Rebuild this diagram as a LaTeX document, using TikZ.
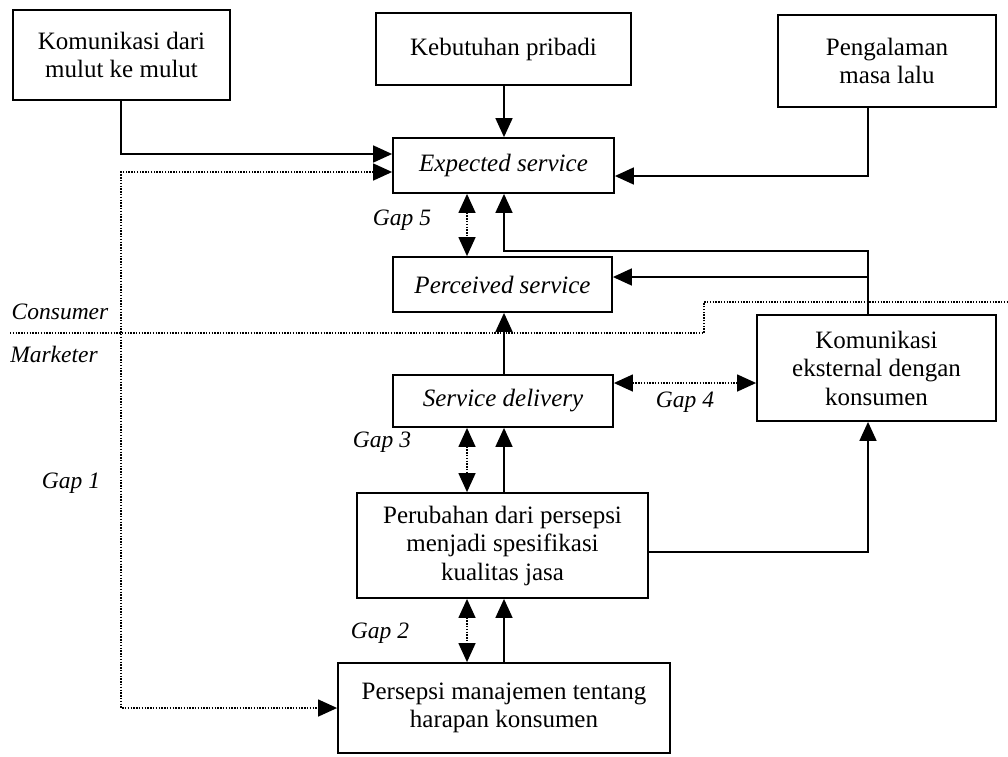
\documentclass[tikz,border=0pt]{standalone}
\usepackage{fontspec}
\setmainfont{Liberation Serif}
\usetikzlibrary{arrows.meta,calc}
\begin{document}
\begin{tikzpicture}[x=1pt,y=-1pt,
  box/.style={draw,line width=1.8pt,align=center,inner sep=0pt,
    font=\fontsize{25}{28.5}\selectfont},
  conn/.style={line width=1.6pt,-{Triangle[length=19pt,width=17pt]}},
  dotline/.style={line width=1.4pt,dash pattern=on 1.4pt off 1.4pt},
  dotconn/.style={dotline,{Triangle[length=19pt,width=17pt]}-{Triangle[length=19pt,width=17pt]}},
  lbl/.style={font=\fontsize{23.5}{28}\selectfont\itshape,inner sep=0pt}]
\useasboundingbox (0,0) rectangle (1008,756);
\fill[white] (0,0) rectangle (1008,756);
% boxes
\node[box,minimum width=217pt,minimum height=90pt] (A) at (121.5,55) {Komunikasi dari\\mulut ke mulut};
\node[box,minimum width=255pt,minimum height=72pt] (B) at (503.5,49) {Kebutuhan pribadi};
\node[box,minimum width=218pt,minimum height=92pt] (C) at (887,61) {Pengalaman\\masa lalu};
\node[box,minimum width=221pt,minimum height=55pt] (Exp) at (503.5,165.5) {\itshape Expected service};
\node[box,minimum width=219pt,minimum height=55pt] (Perc) at (502.5,284.5) {\itshape Perceived service};
\node[box,minimum width=220pt,minimum height=52pt] (SD) at (503,401) {\itshape Service delivery};
\node[box,minimum width=239pt,minimum height=106pt] (KE) at (876.5,368) {Komunikasi\\eksternal dengan\\konsumen};
\node[box,minimum width=291pt,minimum height=105pt] (Per) at (502.5,545.5) {Perubahan dari persepsi\\menjadi spesifikasi\\kualitas jasa};
\node[box,minimum width=332pt,minimum height=90pt] (PM) at (504,708) {Persepsi manajemen tentang\\harapan konsumen};
% helper coordinates
\coordinate (xd) at (467,0);
\coordinate (xs) at (504,0);
\coordinate (xk) at (868,0);
\coordinate (xl) at (121,0);
\coordinate (k1) at (504,251);
\coordinate (k2) at (868,277);
\coordinate (g1) at (121,708);
\coordinate (yg4) at (0,383);
% solid connectors
\draw[conn] (B.south -| xs) -- (Exp.north -| xs);
\draw[conn] (A.south -| xl) |- ([yshift=11.5pt]Exp.west);
\draw[conn] (C.south -| xk) |- ([yshift=-10.5pt]Exp.east);
\draw[conn] (KE.north -| xk) |- (k1) -- (Exp.south -| xs);
\draw[conn] (k2) -- ([yshift=7.5pt]Perc.east);
\draw[conn] (SD.north -| xs) -- (Perc.south -| xs);
\draw[conn] (Per.north -| xs) -- (SD.south -| xs);
\draw[conn] (PM.north -| xs) -- (Per.south -| xs);
\draw[conn] ([yshift=-6.5pt]Per.east) -| (KE.south -| xk);
% dotted gap connectors
\draw[dotconn] (Exp.south -| xd) -- (Perc.north -| xd);
\draw[dotconn] (SD.south -| xd) -- (Per.north -| xd);
\draw[dotconn] (Per.south -| xd) -- (PM.north -| xd);
\draw[dotconn] (SD.east |- yg4) -- (KE.west |- yg4);
\draw[dotconn] ([yshift=-6.5pt]Exp.west) -| (g1) -- (PM.west);
% consumer / marketer separator
\coordinate (s1) at (10,333);
\coordinate (s2) at (704,333);
\coordinate (s3) at (704,302);
\coordinate (s4) at (1008,302);
\draw[dotline] (s1) -- (s2) -- (s3) -- (s4);
% labels
\node[lbl] (cons) at (60,312) {Consumer};
\node[lbl] (mark) at (54,354) {Marketer};
\node[lbl] (gap1) at (71,483) {Gap 1};
\node[lbl] (gap2) at (380,633) {Gap 2};
\node[lbl] (gap3) at (382,442) {Gap 3};
\node[lbl] (gap4) at (685,402) {Gap 4};
\node[lbl] (gap5) at (402,220) {Gap 5};
\end{tikzpicture}
\end{document}
